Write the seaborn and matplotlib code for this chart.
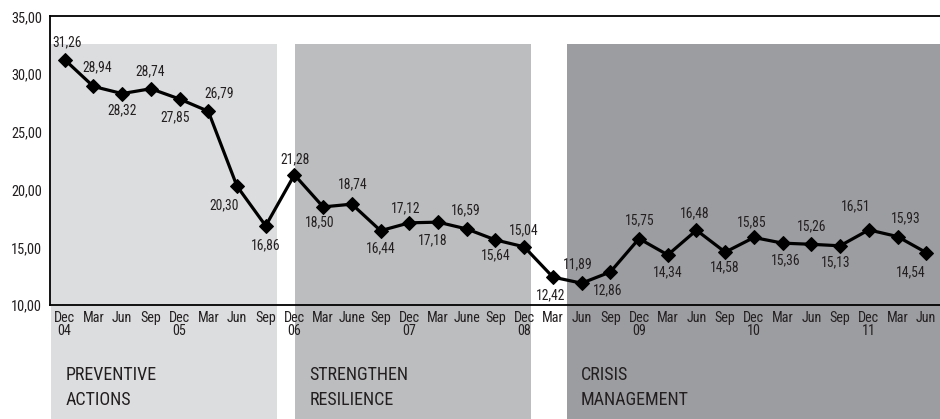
import numpy as np
import pandas as pd
import matplotlib
matplotlib.use("Agg")
import matplotlib.pyplot as plt
import seaborn as sns
from matplotlib import font_manager as fm
from matplotlib.textpath import TextPath
from matplotlib.ticker import FuncFormatter, FixedLocator

# Datos
meses = ["Dec", "Mar", "Jun", "Sep", "Dec", "Mar", "Jun", "Sep",
         "Dec", "Mar", "June", "Sep", "Dec", "Mar", "June", "Sep",
         "Dec", "Mar", "Jun", "Sep", "Dec", "Mar", "Jun", "Sep",
         "Dec", "Mar", "Jun", "Sep", "Dec", "Mar", "Jun"]
anios = ["04", "", "", "", "05", "", "", "",
         "06", "", "", "", "07", "", "", "",
         "08", "", "", "", "09", "", "", "",
         "10", "", "", "", "11", "", ""]
valores = [31.26, 28.94, 28.32, 28.74, 27.85, 26.79, 20.30, 16.86,
           21.28, 18.50, 18.74, 16.44, 17.12, 17.18, 16.59, 15.64,
           15.04, 12.42, 11.89, 12.86, 15.75, 14.34, 16.48, 14.58,
           15.85, 15.36, 15.26, 15.13, 16.51, 15.93, 14.54]

fases = ["PREVENTIVE\nACTIONS", "STRENGTHEN\nRESILIENCE", "CRISIS\nMANAGEMENT"]
fases_inicio = [-0.47, 8.02, 17.48]
fases_fin = [7.385, 16.23, 31.0]
fases_color = ["#dcdddf", "#bcbdbf", "#9c9da1"]

# desplazamiento de cada etiqueta (px) respecto al punto
offsets = [(2, -17), (4, -19), (0, 17), (-1, -17), (-4, 18), (11, -18), (-13, 19), (0, 19),
           (1, -16), (-3, 15), (1, -20), (0, 18), (-4, -15), (-5, 18), (-1, -19), (0, 15),
           (0, -17), (-2, 18), (-4, -19), (-3, 18), (1, -18), (0, 17), (-2, -17), (0, 15),
           (-2, -15), (3, 17), (0, -18), (-4, 16), (-13, -24), (8, -18), (-15, 20)]

# Fuente estrecha: la primera que exista
disponibles = {f.name for f in fm.fontManager.ttflist}
preferidas = ["Liberation Sans Narrow", "DejaVu Sans Condensed", "Roboto Condensed",
              "Open Sans Condensed", "Noto Sans Condensed", "Noto Sans SemiCondensed"]
preferidas += sorted(n for n in disponibles if "Condensed" in n or "Narrow" in n)
preferidas += ["Liberation Sans", "DejaVu Sans"]
fuente = next(n for n in preferidas if n in disponibles)
prop = fm.FontProperties(family=fuente)

df = pd.DataFrame({"idx": np.arange(len(valores)), "valor": valores})

sns.set_style("white")
plt.rcParams["font.family"] = [fuente, "DejaVu Sans"]
texto = "#231f20"


def tam(alto_muestra, alto_px, ancho_muestra, ancho_max):
    # tamaño (pt) por altura de glifo, limitado por el ancho disponible
    h = TextPath((0, 0), alto_muestra, size=10, prop=prop).get_extents().height / 10
    w = TextPath((0, 0), ancho_muestra, size=10, prop=prop).get_extents().width / 10
    return min(alto_px / h, ancho_max / w) * 0.72


fs_y = tam("0", 10.5, "35,00", 44)
fs_dato = tam("0", 10, "31,26", 33)
fs_mes = tam("D", 10, "June", 27)
fs_fase = tam("P", 14, "MANAGEMENT", 106)

fig = plt.figure(figsize=(9.4, 4.19), dpi=100)
ax = fig.add_axes([50.3 / 940, 1 - 305 / 419, 890.3 / 940, 288.5 / 419])

# Zonas sombreadas
for ini, fin, col, nombre in zip(fases_inicio, fases_fin, fases_color, fases):
    ax.axvspan(ini, fin, ymin=-0.40, ymax=0.905, color=col, lw=0, clip_on=False, zorder=0)
    ax.text(ini + 0.5, -0.285, nombre, transform=ax.get_xaxis_transform(),
            ha="left", va="center", fontsize=fs_fase, color=texto, linespacing=1.5)

sns.lineplot(data=df, x="idx", y="valor", ax=ax, color="black", linewidth=2.3,
             marker="D", markersize=7, markeredgecolor="black", zorder=3)

for i, v in enumerate(valores):
    dx, dy = offsets[i]
    ax.annotate(f"{v:.2f}".replace(".", ","), (i, v), xytext=(dx * 0.72, -dy * 0.72),
                textcoords="offset points", ha="center", va="center",
                fontsize=fs_dato, color=texto, zorder=4)

# Años bajo cada "Dec", centrados
for i, a in enumerate(anios):
    if a:
        ax.annotate(a, (i, 0), xycoords=ax.get_xaxis_transform(), xytext=(0, -26 * 0.72),
                    textcoords="offset points", ha="center", va="center",
                    fontsize=fs_mes, color=texto, annotation_clip=False)

ax.set_xlim(-0.5, 30.5)
ax.set_ylim(10, 35)
ax.set_yticks(np.arange(10, 36, 5))
ax.yaxis.set_major_formatter(FuncFormatter(lambda v, p: f"{v:.2f}".replace(".", ",")))
ax.set_xticks(df["idx"])
ax.set_xticklabels(meses, va="top")
ax.xaxis.set_minor_locator(FixedLocator(np.arange(0.5, 30, 1)))
ax.tick_params(axis="x", which="major", length=0, pad=4, labelsize=fs_mes, colors=texto)
ax.tick_params(axis="x", which="minor", length=3, width=1, direction="out", color="black")
ax.tick_params(axis="y", length=4, width=1, direction="out", labelsize=fs_y,
               colors=texto, pad=2)
ax.tick_params(axis="y", color="black")
ax.set_xlabel("")
ax.set_ylabel("")

for s in ["left", "bottom", "top"]:
    ax.spines[s].set_color("black")
    ax.spines[s].set_linewidth(1.3)
ax.spines["right"].set_visible(False)
ax.set_facecolor("none")

fig.savefig("out.png", dpi=100)
